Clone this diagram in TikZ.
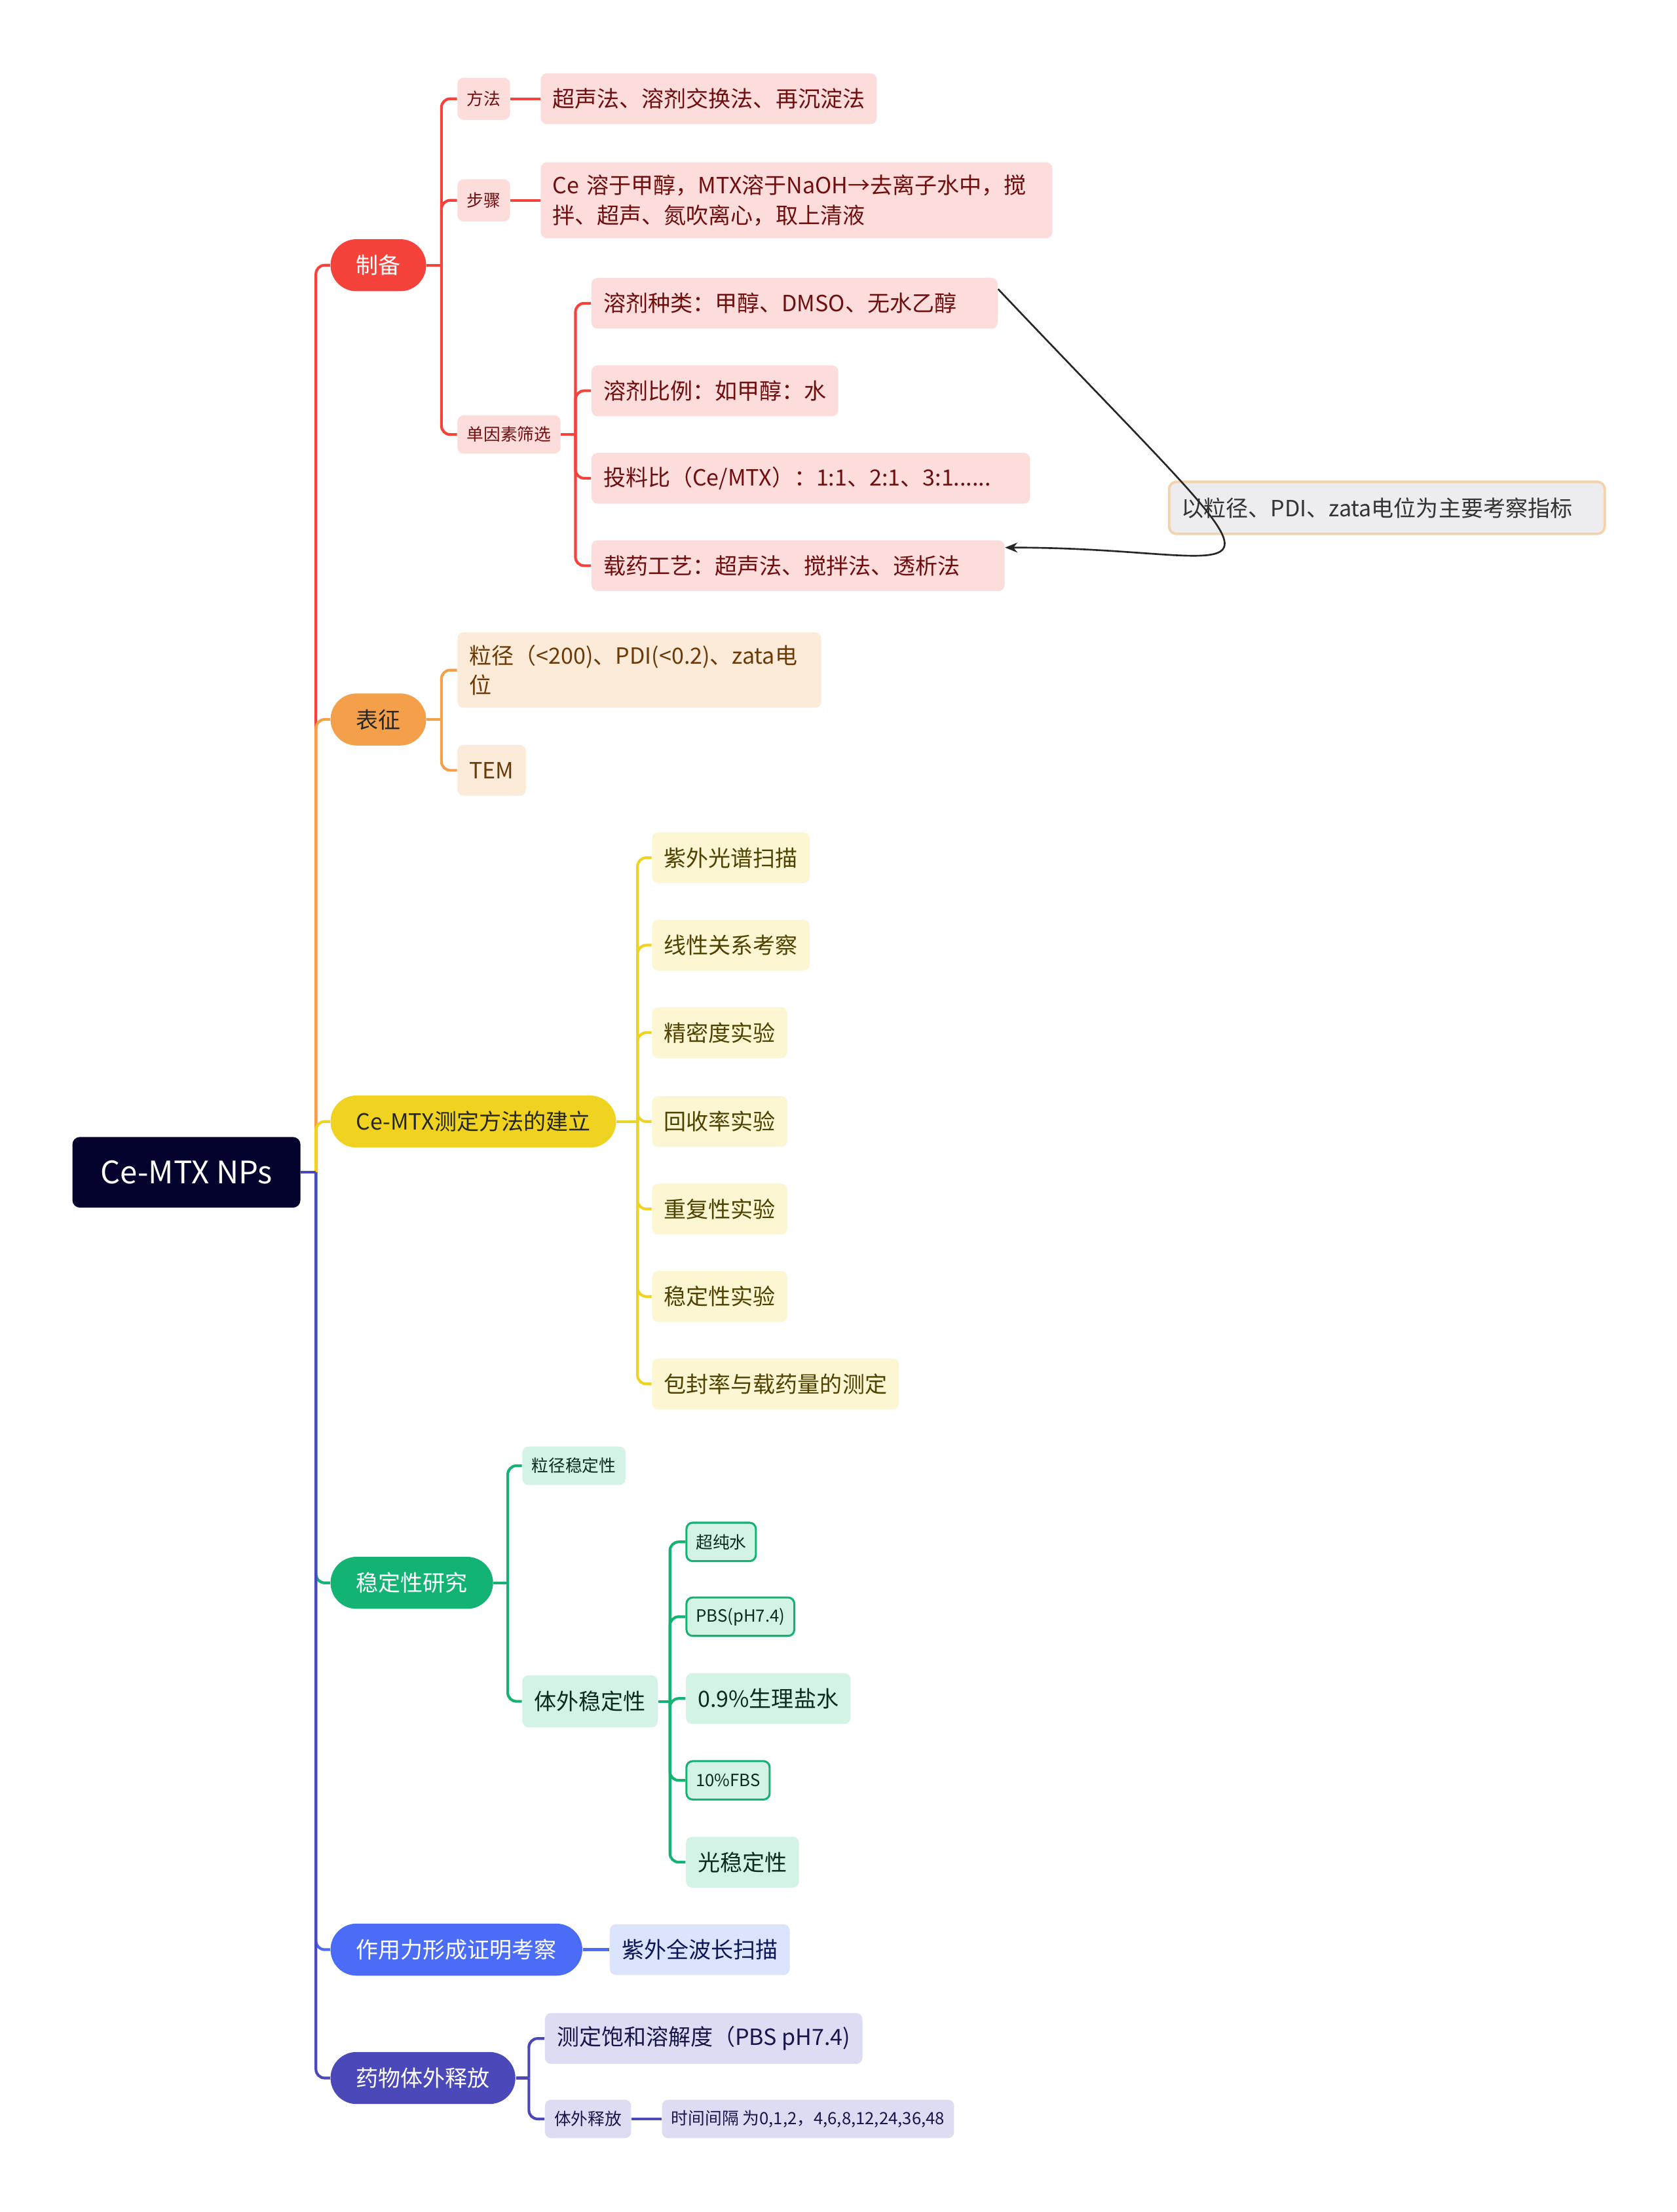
\documentclass[tikz,border=0pt]{standalone}
\usepackage{fontspec}
\setmainfont{Noto Sans CJK SC}
\usepackage{tikz}
\usetikzlibrary{arrows.meta,calc}
\definecolor{rootc}{HTML}{03032E}
\definecolor{redc}{HTML}{F5433C}
\definecolor{redl}{HTML}{FDDCDC}
\definecolor{redt}{HTML}{6E0E0E}
\definecolor{orac}{HTML}{F4A04A}
\definecolor{oral}{HTML}{FDEBDA}
\definecolor{orat}{HTML}{6B3A06}
\definecolor{yelc}{HTML}{F0D320}
\definecolor{yell}{HTML}{FDF6D3}
\definecolor{yelt}{HTML}{4F4200}
\definecolor{grnc}{HTML}{12B373}
\definecolor{grnl}{HTML}{D3F3E5}
\definecolor{grnt}{HTML}{0B2B1E}
\definecolor{bluc}{HTML}{4A6CF7}
\definecolor{blul}{HTML}{DCE3FC}
\definecolor{blut}{HTML}{0B1656}
\definecolor{purc}{HTML}{4B48BA}
\definecolor{purl}{HTML}{DCDCF2}
\definecolor{purt}{HTML}{16164A}
\definecolor{notec}{HTML}{EDEDF0}
\definecolor{noteb}{HTML}{F2D3AE}
\tikzset{
  rootbox/.style={fill=rootc, text=white, rounded corners=3pt, minimum width=92pt,
                  minimum height=28.5pt, font=\fontsize{12.5}{15}\selectfont},
  pill/.style 2 args={fill=#1, text=#2, rounded corners=10.5pt, minimum height=21pt,
                      inner xsep=10.3pt, font=\fontsize{9}{11}\selectfont},
  leaf/.style 2 args={fill=#1, text=#2, rounded corners=2.5pt, minimum height=20.5pt,
                      inner xsep=4.8pt, inner ysep=5pt, align=left,
                      font=\fontsize{9}{12}\selectfont},
  tiny/.style 2 args={fill=#1, text=#2, rounded corners=2.5pt, minimum height=15.5pt,
                      inner xsep=3.8pt, font=\fontsize{6.8}{8}\selectfont},
  note/.style={fill=notec, draw=noteb, line width=1pt, rounded corners=3pt,
               minimum height=21pt, inner xsep=5pt, text=black!80, align=left,
               text width=165.8pt, font=\fontsize{9}{11}\selectfont},
  link/.style={line width=1.1pt, rounded corners=3.5pt},
}

\begin{document}
\begin{tikzpicture}[x=0.02cm, y=-0.02cm, every node/.append style={anchor=west}]
  \fill[white] (0,0) rectangle (1189,1568);
  % root and main branches
  \node[rootbox] (root) at (51,831) {Ce-MTX NPs};
  \node[pill={redc}{white}] (prep) at (234,188) {制备};
  \node[pill={orac}{black!85}] (char) at (234,510) {表征};
  \node[pill={yelc}{black!85}] (assay) at (234,795) {Ce-MTX测定方法的建立};
  \node[pill={grnc}{white}] (stab) at (234,1122) {稳定性研究};
  \node[pill={bluc}{white}] (force) at (234,1382) {作用力形成证明考察};
  \node[pill={purc}{white}] (rel) at (234,1473) {药物体外释放};
  \coordinate (t0) at (224,831);
  \foreach \b/\c in {prep/redc, char/orac, assay/yelc, stab/grnc, force/bluc, rel/purc}
    \draw[link, \c] (t0) |- (\b.west);
  \draw[link, purc] (root.east) -- (t0);

  % 制备
  \node[tiny={redl}{redt}, minimum height=17pt] (way) at (324,70) {方法};
  \node[tiny={redl}{redt}, minimum height=17pt] (step) at (324,142) {步骤};
  \node[tiny={redl}{redt}] (single) at (324,308) {单因素筛选};
  \node[leaf={redl}{redt}] (wayt) at (383,70) {超声法、溶剂交换法、再沉淀法};
  \node[leaf={redl}{redt}, text width=196.9pt] (stept) at (383,142)
    {Ce 溶于甲醇，MTX溶于NaOH→去离子水中，搅\\拌、超声、氮吹离心，取上清液};
  \node[leaf={redl}{redt}, text width=154.3pt] (f1) at (419,215) {溶剂种类：甲醇、DMSO、无水乙醇};
  \node[leaf={redl}{redt}] (f2) at (419,277) {溶剂比例：如甲醇：水};
  \node[leaf={redl}{redt}, text width=167.4pt] (f3) at (419,339) {投料比（Ce/MTX）：1:1、2:1、3:1......};
  \node[leaf={redl}{redt}, text width=157.1pt] (f4) at (419,401) {载药工艺：超声法、搅拌法、透析法};
  \coordinate (s1) at (313,188);
  \draw[link, redc] (prep.east) -- (s1);
  \foreach \c in {way, step, single} \draw[link, redc] (s1) |- (\c.west);
  \draw[link, redc] (way) -- (wayt);
  \draw[link, redc] (step) -- (stept);
  \coordinate (s2) at (408,308);
  \draw[link, redc] (single.east) -- (s2);
  \foreach \c in {f1, f2, f3, f4} \draw[link, redc] (s2) |- (\c.west);
  % relation
  \node[note] (crit) at (828,360) {以粒径、PDI、zata电位为主要考察指标};
  \draw[line width=0.7pt, black!85, -{Stealth[length=5pt, width=4pt]}]
    (f1.4) .. controls (935,445) and (905,388) .. (f4.5);

  % 表征
  \node[leaf={oral}{orat}, text width=137.2pt] (size) at (324,475) {粒径（<200)、PDI(<0.2)、zata电\\位};
  \node[leaf={oral}{orat}] (tem) at (324,546) {TEM};
  \coordinate (s3) at (313,510);
  \draw[link, orac] (char.east) -- (s3);
  \foreach \c in {size, tem} \draw[link, orac] (s3) |- (\c.west);

  % 测定方法
  \coordinate (s4) at (452,795);
  \draw[link, yelc] (assay.east) -- (s4);
  \foreach \y/\t [count=\i] in {608/紫外光谱扫描, 670/线性关系考察, 732/精密度实验,
      795/回收率实验, 857/重复性实验, 919/稳定性实验, 981/包封率与载药量的测定} {
    \node[leaf={yell}{yelt}] (a\i) at (462,\y) {\t};
    \draw[link, yelc] (s4) |- (a\i.west);
  }

  % 稳定性研究
  \node[tiny={grnl}{grnt}] (g1) at (370,1039) {粒径稳定性};
  \node[leaf={grnl}{grnt}, minimum height=21pt] (g2) at (370,1206) {体外稳定性};
  \coordinate (s5) at (360,1122);
  \draw[link, grnc] (stab.east) -- (s5);
  \foreach \c in {g1, g2} \draw[link, grnc] (s5) |- (\c.west);
  \node[tiny={grnl}{grnt}, draw=grnc, line width=0.8pt] (h1) at (486,1093) {超纯水};
  \node[tiny={grnl}{grnt}, draw=grnc, line width=0.8pt] (h2) at (486,1146) {PBS(pH7.4)};
  \node[leaf={grnl}{grnt}] (h3) at (486,1204) {0.9\%生理盐水};
  \node[tiny={grnl}{grnt}, draw=grnc, line width=0.8pt] (h4) at (486,1262) {10\%FBS};
  \node[leaf={grnl}{grnt}] (h5) at (486,1320) {光稳定性};
  \coordinate (s6) at (475,1206);
  \draw[link, grnc] (g2.east) -- (s6);
  \foreach \c in {h1, h2, h3, h4, h5} \draw[link, grnc] (s6) |- (\c.west);

  % 作用力
  \node[leaf={blul}{blut}] (uv) at (432,1382) {紫外全波长扫描};
  \draw[link, bluc] (force) -- (uv);

  % 体外释放
  \node[leaf={purl}{purt}] (p1) at (386,1445) {测定饱和溶解度（PBS pH7.4)};
  \node[tiny={purl}{purt}] (p2) at (386,1502) {体外释放};
  \node[tiny={purl}{purt}] (p3) at (469,1502) {时间间隔 为0,1,2，4,6,8,12,24,36,48};
  \coordinate (s7) at (375,1473);
  \draw[link, purc] (rel.east) -- (s7);
  \foreach \c in {p1, p2} \draw[link, purc] (s7) |- (\c.west);
  \draw[link, purc] (p2) -- (p3);
\end{tikzpicture}
\end{document}
